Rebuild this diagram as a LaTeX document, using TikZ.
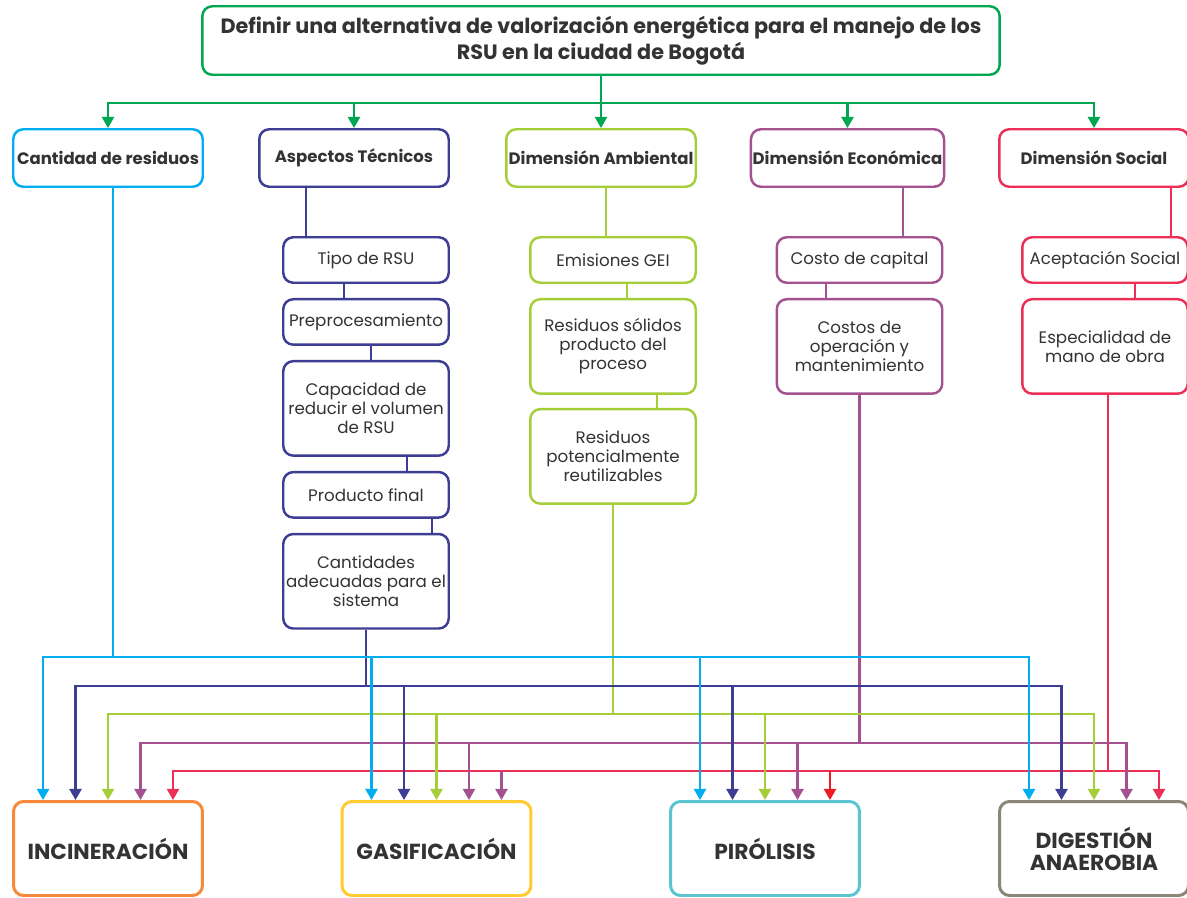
\documentclass[tikz,border=0pt]{standalone}
\usepackage{fontspec}
\setmainfont{Poppins}
\usepackage{tikz}
\usetikzlibrary{arrows.meta, positioning}
\definecolor{topg}{HTML}{00A651}
\definecolor{cyanc}{HTML}{00AEEF}
\definecolor{navy}{HTML}{3D3D94}
\definecolor{lime}{HTML}{A6CE39}
\definecolor{purp}{HTML}{A3528F}
\definecolor{rosered}{HTML}{EC2F57}
\definecolor{brightred}{HTML}{ED1C24}
\definecolor{orng}{HTML}{F6893B}
\definecolor{yell}{HTML}{FFCB31}
\definecolor{teal}{HTML}{5BC5CF}
\definecolor{greyb}{HTML}{8A8778}
\definecolor{txt}{HTML}{333333}
\tikzset{
    box/.style = {draw, rounded corners=0.2cm, line width=1.4pt, fill=white,
        text=txt, align=center, inner sep=1pt},
    goal/.style = {box, draw=topg, minimum width=15.95cm, minimum height=1.37cm,
        font=\bfseries\fontsize{11.8}{14.7}\selectfont},
    dim/.style = {box, minimum width=3.79cm, minimum height=1.15cm,
        font=\bfseries\fontsize{9.4}{10}\selectfont},
    crit/.style = {box, minimum width=3.31cm, minimum height=0.91cm,
        font=\fontsize{9.5}{10.8}\selectfont},
    crit_tall/.style = {crit, minimum height=1.89cm},
    tech/.style = {box, line width=1.7pt, minimum width=3.78cm, minimum height=1.88cm,
        font=\bfseries\fontsize{12.4}{12.5}\selectfont},
    link/.style = {line width=1.4pt},
    bus/.style = {link, line cap=rect},
    tip/.style = {-{Triangle[width=6.8pt,length=6.3pt]}},
}

\begin{document}
\begin{tikzpicture}[x=0.02cm, y=-0.02cm]
        \useasboundingbox (0,0) rectangle (1187,898);
        % objetivo
        \node [goal] (goal) at (601,40.5) {Definir una alternativa de valorización energética para el manejo de los\\RSU en la ciudad de Bogotá};
        \coordinate (hub) at (601,103);

        % dimensiones
        \node [dim, draw=cyanc] (cant) at (108,158) {Cantidad de residuos};
        \node [dim, draw=navy] (aspect) at (354,158) {Aspectos Técnicos};
        \node [dim, draw=lime] (amb) at (601,158) {Dimensión Ambiental};
        \node [dim, draw=purp] (econ) at (847.5,158) {Dimensión Económica};
        \node [dim, draw=rosered] (soc) at (1094,158) {Dimensión Social};

        % criterios
        \node [crit, draw=navy] (tipo) at (366,260) {Tipo de RSU};
        \node [crit, draw=navy, below=0.28cm of tipo] (prepro) {Preprocesamiento};
        \node [crit_tall, draw=navy, below=0.28cm of prepro] (capac) {Capacidad de\\reducir el volumen\\de RSU};
        \node [crit, draw=navy, below=0.28cm of capac] (prodf) {Producto final};
        \node [crit_tall, draw=navy, below=0.28cm of prodf] (cantid) {Cantidades\\adecuadas para el\\sistema};

        \node [crit, draw=lime] (gei) at (613,260) {Emisiones GEI};
        \node [crit_tall, draw=lime, below=0.28cm of gei] (solid) {Residuos sólidos\\producto del\\proceso};
        \node [crit_tall, draw=lime, below=0.26cm of solid] (reutil) {Residuos\\potencialmente\\reutilizables};

        \node [crit, draw=purp] (capital) at (859.5,260) {Costo de capital};
        \node [crit_tall, draw=purp, below=0.28cm of capital] (opman) {Costos de\\operación y\\mantenimiento};

        \node [crit, draw=rosered] (acept) at (1105,260) {Aceptación Social};
        \node [crit_tall, draw=rosered, below=0.28cm of acept] (espec) {Especialidad de\\mano de obra};

        % tecnologias
        \node [tech, draw=orng] (incin) at (108,848.5) {INCINERACIÓN};
        \node [tech, draw=yell] (gasif) at (436.5,848.5) {GASIFICACIÓN};
        \node [tech, draw=teal] (piro) at (765,848.5) {PIRÓLISIS};
        \node [tech, draw=greyb] (diges) at (1094,848.5) {DIGESTIÓN\\ANAEROBIA};

        \coordinate (busA) at (0,657);
        \coordinate (busB) at (0,686);
        \coordinate (busC) at (0,714);
        \coordinate (busD) at (0,743);
        \coordinate (busE) at (0,771);

        % objetivo -> dimensiones
        \draw [link, topg] (goal.south) -- (hub);
        \draw [bus, topg] (cant.north |- hub) -- (soc.north |- hub);
        \foreach \n in {cant,aspect,amb,econ,soc}
            \draw [link, tip, topg] (\n.north |- hub) -- (\n.north);

        % dimensiones -> criterios
        \draw [link, navy] ([xshift=-1.2cm]tipo.north |- aspect.south) -- ([xshift=-1.2cm]tipo.north);
        \draw [link, navy] ([xshift=-0.44cm]tipo.south) -- ([xshift=-0.44cm]prepro.north);
        \draw [link, navy] ([xshift=0.1cm]prepro.south) -- ([xshift=0.1cm]capac.north);
        \draw [link, navy] ([xshift=0.82cm]capac.south) -- ([xshift=0.82cm]prodf.north);
        \draw [link, navy] ([xshift=1.32cm]prodf.south) -- ([xshift=1.32cm]cantid.north);

        \draw [link, lime] ([xshift=-0.14cm]gei.north |- amb.south) -- ([xshift=-0.14cm]gei.north);
        \draw [link, lime] ([xshift=0.28cm]gei.south) -- ([xshift=0.28cm]solid.north);
        \draw [link, lime] ([xshift=0.88cm]solid.south) -- ([xshift=0.88cm]reutil.north);

        \draw [link, purp] ([xshift=0.87cm]capital.north |- econ.south) -- ([xshift=0.87cm]capital.north);
        \draw [link, purp] ([xshift=-0.67cm]capital.south) -- ([xshift=-0.67cm]opman.north);

        \draw [link, rosered] ([xshift=1.32cm]acept.north |- soc.south) -- ([xshift=1.32cm]acept.north);
        \draw [link, rosered] ([xshift=0.6cm]acept.south) -- ([xshift=0.6cm]espec.north);

        % criterios -> buses
        \draw [link, cyanc] ([xshift=0.1cm]cant.south) -- ([xshift=0.1cm]cant.south |- busA);
        \draw [link, navy] (cantid.south) -- (cantid.south |- busB);
        \draw [link, lime] (reutil.south) -- (reutil.south |- busC);
        \draw [link, purp] (opman.south) -- (opman.south |- busD);
        \draw [link, rosered] ([xshift=0.06cm]espec.south) -- ([xshift=0.06cm]espec.south |- busE);

        % buses -> tecnologias
        \draw [bus, cyanc] ([xshift=-1.3cm]incin.north |- busA) -- ([xshift=-1.3cm]diges.north |- busA);
        \draw [bus, navy] ([xshift=-0.65cm]incin.north |- busB) -- ([xshift=-0.65cm]diges.north |- busB);
        \draw [bus, lime] (incin.north |- busC) -- (diges.north |- busC);
        \draw [bus, purp] ([xshift=0.65cm]incin.north |- busD) -- ([xshift=0.65cm]diges.north |- busD);
        \draw [bus, rosered] ([xshift=1.3cm]incin.north |- busE) -- ([xshift=1.3cm]diges.north |- busE);
        \foreach \b in {incin,gasif,piro,diges}{
            \draw [link, tip, cyanc] ([xshift=-1.3cm]\b.north |- busA) -- ([xshift=-1.3cm]\b.north);
            \draw [link, tip, navy] ([xshift=-0.65cm]\b.north |- busB) -- ([xshift=-0.65cm]\b.north);
            \draw [link, tip, lime] (\b.north |- busC) -- (\b.north);
            \draw [link, tip, purp] ([xshift=0.65cm]\b.north |- busD) -- ([xshift=0.65cm]\b.north);
        }
        \foreach \b/\c in {incin/rosered, gasif/purp, piro/brightred, diges/rosered}
            \draw [link, tip, \c] ([xshift=1.3cm]\b.north |- busE) -- ([xshift=1.3cm]\b.north);
\end{tikzpicture}
\end{document}
